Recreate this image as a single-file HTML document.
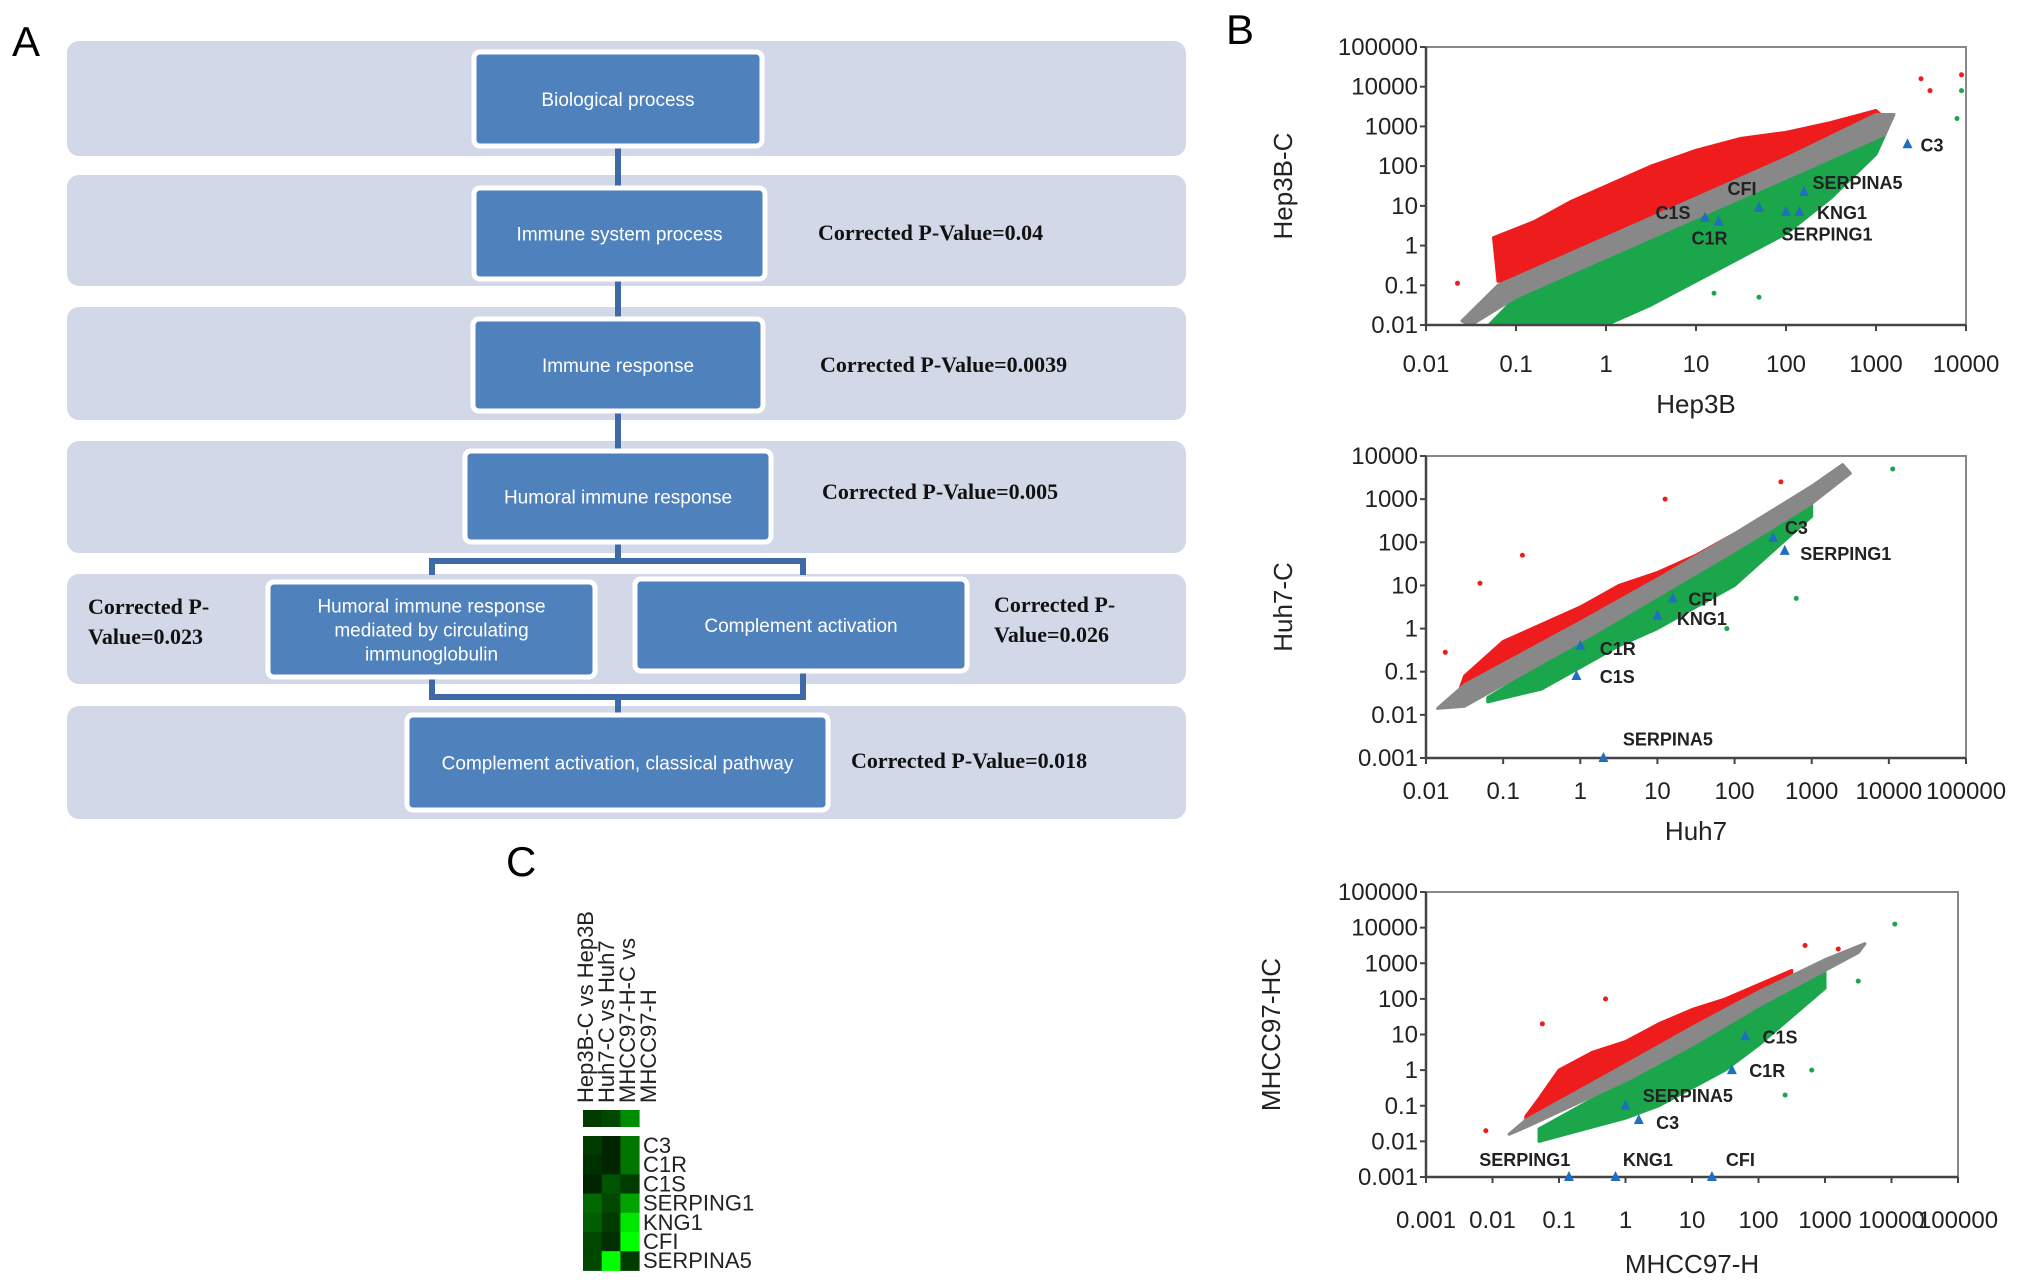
<!DOCTYPE html>
<html><head><meta charset="utf-8"><style>
html,body{margin:0;padding:0;background:#fff;}
svg{display:block;font-family:"Liberation Sans",sans-serif;}
</style></head><body>
<svg id="fig" width="2032" height="1288" viewBox="0 0 2032 1288" xmlns="http://www.w3.org/2000/svg">
<g id="panelA">
<text x="12" y="56" font-size="42">A</text>
</g>
<text x="1226" y="44" font-size="42">B</text>
<text x="506" y="876" font-size="42">C</text>
<g id="plots"></g>
<g id="heat"></g>
</svg>
<script>
// ===== Panel A flowchart data =====
const bandYs = [[41,156],[175,286],[307,420],[441,553],[574,684],[706,819]];
const boxTexts = [["Biological process"],["Immune system process"],["Immune response"],["Humoral immune response"],["Humoral immune response","mediated by circulating","immunoglobulin"],["Complement activation"],["Complement activation, classical pathway"]];
const boxRects = [[474,52,288,94],[474,188,291,91],[473,319,290,92],[465,451,306,91],[268,582,327,95],[635,579,332,92],[407,715,421,95]];
const pvals = [["Corrected P-Value=0.04",818,240],["Corrected P-Value=0.0039",820,372],["Corrected P-Value=0.005",822,499],["Corrected P-Value=0.018",851,768],["Corrected P-",88,614],["Value=0.023",88,644],["Corrected P-",994,612],["Value=0.026",994,642]];

// ===== Panel B scatter data (log10 units) =====
const p1Red = [[-1.2,-0.9],[-1.25,0.2],[-0.8,0.6],[-0.4,1.1],[0,1.5],[0.5,2.0],[1,2.4],[1.5,2.7],[2,2.85],[2.5,3.1],[3,3.4],[3.1,3.2],[2.5,2.6],[2,2.1],[1,1.1],[0,0.1],[-1,-0.9]];
const p1Grey = [[-1.6,-1.9],[-1.2,-1.0],[0,0.2],[1,1.2],[2,2.2],[3,3.3],[3.2,3.3],[3.1,2.8],[2,1.7],[1,0.7],[0,-0.3],[-1,-1.3],[-1.5,-2]];
const p1Green = [[-1.3,-2],[0,-2],[0.5,-1.5],[1,-0.9],[1.5,-0.3],[2,0.3],[2.5,1.2],[3,2.3],[3.1,2.8],[2,1.7],[1,0.7],[0,-0.3],[-1,-1.3]];
const p1Out = [[-1.65,-0.95,"r"],[-1.2,0.1,"r"],[-0.15,1.1,"r"],[3.5,4.2,"r"],[3.95,4.3,"r"],[3.6,3.9,"r"],[3.95,3.9,"g"],[3.9,3.2,"g"],[1.2,-1.2,"g"],[1.7,-1.3,"g"]];
const p1Genes = ["C3","SERPINA5","KNG1","SERPING1","CFI","C1S","C1R"];
const p1GX = [3.35,2.2,2.15,2.0,1.7,1.1,1.25];
const p1GY = [2.55,1.35,0.85,0.85,0.95,0.7,0.6];
const p1LX = [3.45,2.25,2.3,1.95,1.35,0.55,0.95];
const p1LY = [2.55,1.6,0.85,0.3,1.45,0.85,0.2];

const p2Red = [[-1.6,-1.6],[-1.5,-1.1],[-1,-0.3],[-0.5,0.1],[0,0.5],[0.5,1.0],[1,1.3],[1.5,1.7],[2,2.2],[2.4,2.5],[2.4,2.3],[0,0.1],[-1.6,-1.5]];
const p2Grey = [[-1.85,-1.85],[-1.5,-1.3],[0,0.15],[1,1.15],[2,2.2],[3,3.3],[3.4,3.8],[3.5,3.6],[3,2.9],[2,1.8],[1,0.75],[0,-0.3],[-1.5,-1.8]];
const p2Green = [[-1.2,-1.7],[-0.5,-1.4],[0,-0.9],[0.5,-0.4],[1,0],[1.5,0.5],[2,1.0],[2.5,1.8],[3,2.6],[3,2.9],[2,1.8],[1,0.75],[0,-0.3],[-1.2,-1.6]];
const p2Out = [[-0.75,1.7,"r"],[-1.3,1.05,"r"],[1.1,3.0,"r"],[2.6,3.4,"r"],[-1.75,-0.55,"r"],[4.05,3.7,"g"],[2.8,2.4,"g"],[2.8,0.7,"g"],[1.9,0.0,"g"]];
const p2Genes = ["C3","SERPING1","CFI","KNG1","C1R","C1S","SERPINA5"];
const p2GX = [2.5,2.65,1.2,1.0,0.0,-0.05,0.3];
const p2GY = [2.1,1.8,0.7,0.3,-0.4,-1.1,-3];
const p2LX = [2.6,2.8,1.35,1.2,0.2,0.2,0.5];
const p2LY = [2.35,1.75,0.7,0.25,-0.45,-1.1,-2.55];

const p3Red = [[-1.5,-1.3],[-1.3,-0.8],[-1,0],[-0.5,0.5],[0,0.8],[0.5,1.3],[1,1.7],[1.5,2.0],[2,2.4],[2.5,2.8],[2.5,2.6],[0,0.1],[-1.5,-1.5]];
const p3Grey = [[-1.75,-1.8],[-1.5,-1.4],[0,0.15],[1,1.2],[2,2.2],[3,3.1],[3.6,3.55],[3.5,3.3],[3,2.8],[2,1.8],[1,0.7],[0,-0.3],[-1.5,-1.6]];
const p3Green = [[-1.3,-2],[-0.5,-1.6],[0,-1.35],[0.5,-1],[1,-0.5],[1.5,0],[2,0.7],[2.5,1.5],[3,2.3],[3,2.8],[2,1.8],[1,0.7],[0,-0.3],[-1.3,-1.65]];
const p3Out = [[-2.1,-1.7,"r"],[-0.3,2.0,"r"],[-1.25,1.3,"r"],[2.7,3.5,"r"],[3.2,3.4,"r"],[4.05,4.1,"g"],[3.5,2.5,"g"],[2.8,0.0,"g"],[2.4,-0.7,"g"]];
const p3Genes = ["C1S","C1R","SERPINA5","C3","SERPING1","KNG1","CFI"];
const p3GX = [1.8,1.6,0.0,0.2,-0.85,-0.15,1.3];
const p3GY = [0.95,0.0,-1.0,-1.4,-3,-3,-3];
const p3LX = [2.0,1.8,0.2,0.4,-2.2,-0.1,1.45];
const p3LY = [0.95,0.0,-0.7,-1.45,-2.5,-2.5,-2.5];

const p1XTicks = ["0.01","0.1","1","10","100","1000","10000"];
const p1YTicks = ["0.01","0.1","1","10","100","1000","10000","100000"];
const p2XTicks = ["0.01","0.1","1","10","100","1000","10000","100000"];
const p2YTicks = ["0.001","0.01","0.1","1","10","100","1000","10000"];
const p3XTicks = ["0.001","0.01","0.1","1","10","100","1000","10000","100000"];
const p3YTicks = ["0.001","0.01","0.1","1","10","100","1000","10000","100000"];

// ===== Panel C heatmap data =====
const heatCols = ["Hep3B-C vs Hep3B","Huh7-C vs Huh7","MHCC97-H-C vs","MHCC97-H"];
const heatGenes = ["C3","C1R","C1S","SERPING1","KNG1","CFI","SERPINA5"];
const heatSummary = [0.15,0.2,0.5];
const heatVals = [[0.15,0.05,0.4],[0.1,0.05,0.4],[0.05,0.25,0.15],[0.35,0.2,0.6],[0.3,0.15,0.9],[0.2,0.1,1.0],[0.2,1.0,0.15]];

const NS="http://www.w3.org/2000/svg";
function mk(tag,attrs,parent){const e=document.createElementNS(NS,tag);for(const k in attrs)e.setAttribute(k,attrs[k]);parent.appendChild(e);return e;}

// ---- Panel A ----
const pA=document.getElementById('panelA');
bandYs.forEach(b=>{
  const r=mk('rect',{x:67,y:b[0],width:1119,height:b[1]-b[0],rx:12,fill:'#d3d8e8'},pA);
  
  
});
const conn=mk('path',{d:'M618 146V188M618 279V319M618 411V451M618 542V561M432 575V561H803V575M432 677V697H803V671M618 697V715',stroke:'#3e6aa6','stroke-width':6,fill:'none'},pA);


boxRects.forEach((b,i)=>{
  const r=mk('rect',{x:b[0],y:b[1],width:b[2],height:b[3],rx:6,fill:'#4f81bd',stroke:'#fff','stroke-width':5},pA);
  
  
  const lines=boxTexts[i];const cy=b[1]+b[3]/2;const lh=24;
  lines.forEach((t,j)=>{
    const tx=mk('text',{x:b[0]+b[2]/2,y:cy+(j-(lines.length-1)/2)*lh+7,'text-anchor':'middle',fill:'#fff','font-size':19},pA);
    tx.textContent=t;
    
    
  });
});
pvals.forEach(p=>{
  const t=mk('text',{x:p[1],y:p[2],'font-size':22,'font-weight':'bold','font-family':'"Liberation Serif",serif',fill:'#111'},pA);
  t.textContent=p[0];
  
  
});

// ---- Scatter plots ----
const plots=[
 {x0:1426,x1:1966,y0:47,y1:325,xmin:-2,xmax:4,ymin:-2,ymax:5,xt:p1XTicks,yt:p1YTicks,red:p1Red,grey:p1Grey,green:p1Green,out:p1Out,gn:p1Genes,gx:p1GX,gy:p1GY,lx:p1LX,ly:p1LY,xl:"Hep3B",yl:"Hep3B-C",tly:372,xly:413,ylx:1292},
 {x0:1426,x1:1966,y0:456,y1:758,xmin:-2,xmax:5,ymin:-3,ymax:4,xt:p2XTicks,yt:p2YTicks,red:p2Red,grey:p2Grey,green:p2Green,out:p2Out,gn:p2Genes,gx:p2GX,gy:p2GY,lx:p2LX,ly:p2LY,xl:"Huh7",yl:"Huh7-C",tly:799,xly:840,ylx:1292},
 {x0:1426,x1:1958,y0:892,y1:1177,xmin:-3,xmax:5,ymin:-3,ymax:5,xt:p3XTicks,yt:p3YTicks,red:p3Red,grey:p3Grey,green:p3Green,out:p3Out,gn:p3Genes,gx:p3GX,gy:p3GY,lx:p3LX,ly:p3LY,xl:"MHCC97-H",yl:"MHCC97-HC",tly:1228,xly:1273,ylx:1280}
];
const gP=document.getElementById('plots');
plots.forEach((p,pi)=>{
  const g=mk('g',{},gP);
  
  
  const sx=v=>p.x0+(v-p.xmin)/(p.xmax-p.xmin)*(p.x1-p.x0);
  const sy=v=>p.y1-(v-p.ymin)/(p.ymax-p.ymin)*(p.y1-p.y0);
  const cid='clip'+pi;
  const cp=mk('clipPath',{id:cid},g);mk('rect',{x:p.x0,y:p.y0,width:p.x1-p.x0,height:p.y1-p.y0},cp);
  const fr=mk('rect',{x:p.x0,y:p.y0,width:p.x1-p.x0,height:p.y1-p.y0,fill:'#fff',stroke:'#888','stroke-width':2},g);
  
  
  const cg=mk('g',{'clip-path':'url(#'+cid+')'},g);
  [[p.red,'#ee1c1c','up-regulated-cloud'],[p.green,'#1ca64c','down-regulated-cloud'],[p.grey,'#888888','unchanged-cloud']].forEach(c=>{
    const pts=c[0].map(q=>sx(q[0]).toFixed(1)+','+sy(q[1]).toFixed(1)).join(' ');
    const pg=mk('polygon',{points:pts,fill:c[1],stroke:c[1],'stroke-width':3,'stroke-linejoin':'round'},cg);
    
    
  });
  p.out.forEach(o=>{
    const d=mk('circle',{cx:sx(o[0]),cy:sy(o[1]),r:2.5,fill:o[2]=='r'?'#ee1c1c':'#1ca64c'},cg);
    
    
  });
  const ax=mk('path',{d:`M${p.x0} ${p.y0}V${p.y1}H${p.x1}`,stroke:'#444','stroke-width':2.5,fill:'none'},g);
  
  
  p.xt.forEach((t,i)=>{
    const x=sx(p.xmin+i);
    mk('line',{x1:x,x2:x,y1:p.y1,y2:p.y1+6,stroke:'#444','stroke-width':2},g);
    const tx=mk('text',{x:x,y:p.tly,'text-anchor':'middle','font-size':24,fill:'#222'},g);
    tx.textContent=t;
    
    
  });
  p.yt.forEach((t,i)=>{
    const y=sy(p.ymin+i);
    mk('line',{x1:p.x0-6,x2:p.x0,y1:y,y2:y,stroke:'#444','stroke-width':2},g);
    const tx=mk('text',{x:p.x0-8,y:y+8,'text-anchor':'end','font-size':24,fill:'#222'},g);
    tx.textContent=t;
    
    
  });
  const xl=mk('text',{x:(p.x0+p.x1)/2,y:p.xly,'text-anchor':'middle','font-size':26,fill:'#222'},g);
  xl.textContent=p.xl;
  
  
  const yc=(p.y0+p.y1)/2;
  const yl=mk('text',{x:p.ylx,y:yc,'text-anchor':'middle','font-size':26,fill:'#222',transform:`rotate(-90 ${p.ylx} ${yc})`},g);
  yl.textContent=p.yl;
  
  
  p.gn.forEach((n,i)=>{
    const x=sx(p.gx[i]),y=sy(p.gy[i]);
    const tr=mk('polygon',{points:`${x},${y-6} ${x-5},${y+4} ${x+5},${y+4}`,fill:'#1f6fc0'},g);
    
    
    const lb=mk('text',{x:sx(p.lx[i])+(p.lx[i]>p.gx[i]?4:0),y:sy(p.ly[i])+7,'font-size':18,'font-weight':'bold',fill:'#222'},g);
    lb.textContent=n;
    
    
  });
});

// ---- Heatmap ----
const gH=document.getElementById('heat');
const hx0=583,cw=18.7,rh=19.2,hy0=1136;
const col=v=>`rgb(0,${Math.round(25+230*v)},0)`;
heatCols.forEach((t,i)=>{
  const x=593+i*21,y=1103;
  const tx=mk('text',{x:x,y:y,'font-size':22,fill:'#222',transform:`rotate(-90 ${x} ${y})`},gH);
  tx.textContent=t;
  
  
});
heatSummary.forEach((v,i)=>{
  const r=mk('rect',{x:hx0+i*cw,y:1110,width:cw+0.5,height:17,fill:col(v)},gH);
  
  
});
heatVals.forEach((row,j)=>{
  row.forEach((v,i)=>{
    const r=mk('rect',{x:hx0+i*cw,y:hy0+j*rh,width:cw+0.5,height:rh+0.5,fill:col(v)},gH);
    
    
  });
  const t=mk('text',{x:643,y:hy0+j*rh+17,'font-size':22,fill:'#222'},gH);
  t.textContent=heatGenes[j];
  
  
});
</script>
</body></html>
